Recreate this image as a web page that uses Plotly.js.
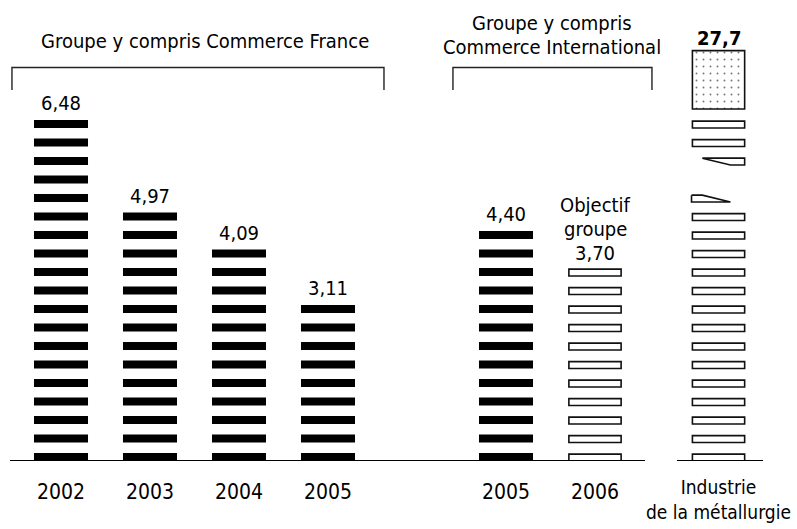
<!DOCTYPE html>
<html><head><meta charset="utf-8">
<script src="https://cdn.plot.ly/plotly-3.0.1.min.js"></script>
<style>html,body{margin:0;padding:0;background:#fff}#chart{width:797px;height:529px}</style>
</head><body><div id="chart"></div>
<script>
// ---- data ----
const groupTitles = ['Groupe y compris Commerce France', 'Groupe y compris<br>Commerce International'];
const categories = ['2002', '2003', '2004', '2005', '2005', '2006', 'Industrie<br>de la métallurgie'];
const values = [6.48, 4.97, 4.09, 3.11, 4.40, 3.70, 27.7];
const decimals = [2, 2, 2, 2, 2, 2, 1];
const bands = [19, 14, 12, 9, 13, 11, null];      // stripes drawn per bar
const metalBands = [14, 2];                       // full stripes below / above the axis break
const targetNote = 'Objectif<br>groupe';

// ---- layout config (positions & styles) ----
const slot = [0, 1, 2, 3, 5, 6, 7.388];
const outline = [false, false, false, false, false, true, true];
const BW = 0.607, H = 0.43;
const FONT = '"DejaVu Sans Condensed", "Liberation Sans Narrow", "Roboto", sans-serif';
const fmt = (v, d) => v.toFixed(d).replace('.', ',');

const solid = {x: [], base: [], y: []};
const hollow = {x: [], base: [], y: []};
categories.forEach((c, i) => {
  const tgt = outline[i] ? hollow : solid;
  let idx = [];
  if (bands[i] != null) { for (let k = 0; k < bands[i]; k++) idx.push(k); }
  else {
    for (let k = 0; k < metalBands[0]; k++) idx.push(k);
    const up = metalBands[0] + 3;
    for (let k = 0; k < metalBands[1]; k++) idx.push(up + k);
  }
  idx.forEach(k => { tgt.x.push(slot[i]); tgt.base.push(k); tgt.y.push(H); });
});

const mi = categories.length - 1, xm = slot[mi];
const L = xm - BW / 2, R = xm + BW / 2, W = BW;
const wLow = metalBands[0], wUp = metalBands[0] + 2;
const boxBase = metalBands[0] + 3 + metalBands[1] + 0.03, boxH = 3.15;

const traces = [
  {type: 'bar', x: solid.x, base: solid.base, y: solid.y, width: BW,
   marker: {color: '#000', line: {width: 0}}, hoverinfo: 'skip', showlegend: false},
  {type: 'bar', x: hollow.x, base: hollow.base, y: hollow.y.map(v => v - 0.06), width: BW - 0.02,
   marker: {color: '#fff', line: {color: '#111', width: 1.6}}, hoverinfo: 'skip', showlegend: false},
  {type: 'bar', x: [xm], base: [boxBase], y: [boxH], width: BW - 0.02,
   marker: {color: '#fff', line: {color: '#111', width: 1.6},
            pattern: {shape: '.', fgcolor: '#777', bgcolor: '#fff', size: 7, solidity: 0.06}},
   hoverinfo: 'skip', showlegend: false},
  {type: 'scatter', mode: 'lines', fill: 'toself', fillcolor: '#fff',
   x: [L, L + 0.2 * W, L + 0.72 * W, L, L], y: [wLow + H - 0.06, wLow + H - 0.06, wLow, wLow, wLow + H - 0.06],
   line: {color: '#111', width: 1.6}, hoverinfo: 'skip', showlegend: false},
  {type: 'scatter', mode: 'lines', fill: 'toself', fillcolor: '#fff',
   x: [L + 0.2 * W, R - 0.01, R - 0.01, L + 0.72 * W, L + 0.2 * W], y: [wUp + H - 0.06, wUp + H - 0.06, wUp, wUp, wUp + H - 0.06],
   line: {color: '#111', width: 1.6}, hoverinfo: 'skip', showlegend: false}
];

const ann = [];
const A = (o) => ann.push(Object.assign({showarrow: false, xref: 'x', yref: 'y', yanchor: 'middle',
  font: {family: FONT, size: 20, color: '#000'}}, o));

// value labels
categories.forEach((c, i) => {
  if (i === 5) {
    const top = bands[i] - 1 + H;
    A({x: slot[i], y: top, yshift: 15, text: fmt(values[i], decimals[i])});
    const lines = targetNote.split('<br>');
    lines.forEach((t, j) => A({x: slot[i], y: top, yshift: 15 + 24 * (lines.length - j), text: t}));
  } else if (bands[i] != null) {
    A({x: slot[i], y: bands[i] - 1 + H, yshift: 17, text: fmt(values[i], decimals[i])});
  } else {
    A({x: slot[i], y: boxBase + boxH, yshift: 13, text: '<b>' + fmt(values[i], decimals[i]) + '</b>',
       font: {family: FONT, size: 20, color: '#000', weight: 'bold'}});
  }
});
// category labels
categories.forEach((c, i) => {
  const multi = c.indexOf('<br>') >= 0;
  A({x: slot[i], y: 0, yshift: multi ? -38 : -31, text: c,
     font: {family: FONT, size: multi ? 19 : 21, color: '#000'}});
});
// group titles
A({x: 1.618, y: 22.70, text: groupTitles[0]});
groupTitles[1].split('<br>').forEach((t, j) => A({x: 5.52, y: 23.65 - 1.27 * j, text: t}));

const bracket = (x0, x1) => ({type: 'path', xref: 'x', yref: 'y',
  path: `M ${x0},20.05 L ${x0},21.27 L ${x1},21.27 L ${x1},20.05`,
  line: {color: '#222', width: 1.4}});
const shapes = [
  bracket(slot[0] - 0.551, slot[3] + 0.629),
  bracket(slot[4] - 0.596, slot[5] + 0.640),
  {type: 'line', xref: 'x', yref: 'y', x0: slot[0] - 0.573, x1: slot[5] + 0.562, y0: 0, y1: 0, line: {color: '#000', width: 2}},
  {type: 'line', xref: 'x', yref: 'y', x0: xm - 0.467, x1: xm + 0.5, y0: 0, y1: 0, line: {color: '#000', width: 2}}
];

const layout = {
  width: 797, height: 529,
  margin: {l: 0, r: 0, t: 0, b: 68, pad: 0},
  paper_bgcolor: '#fff', plot_bgcolor: '#fff',
  barmode: 'overlay', showlegend: false,
  xaxis: {range: [-0.6854, 8.2697], visible: false, fixedrange: true},
  yaxis: {range: [0, 24.919], visible: false, fixedrange: true},
  annotations: ann, shapes: shapes,
  font: {family: FONT}
};
Plotly.newPlot('chart', traces, layout, {staticPlot: true, displayModeBar: false});
</script></body></html>
